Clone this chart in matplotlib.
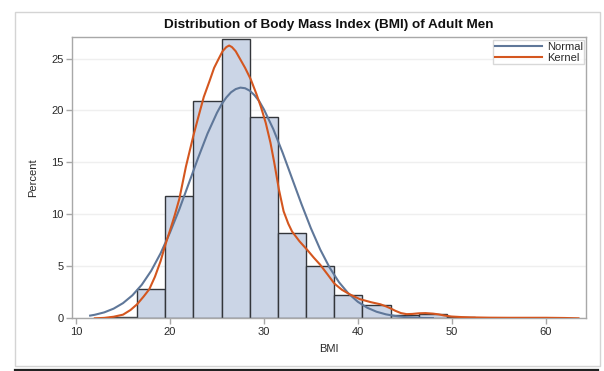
import matplotlib
matplotlib.use("Agg")
import matplotlib.pyplot as plt
from matplotlib.patches import Rectangle
from matplotlib.lines import Line2D

plt.rcParams['font.family'] = ['Liberation Sans', 'DejaVu Sans']

# Histogram bins (BMI) and percent heights
bin_left = [13.5, 16.5, 19.5, 22.5, 25.5, 28.5, 31.5, 34.5, 37.5, 40.5, 43.5, 46.5, 49.5, 58.5]
bin_width = 3.0
bin_percent = [0.17, 2.8, 11.8, 20.9, 26.9, 19.4, 8.2, 5.0, 2.25, 1.25, 0.35, 0.43, 0.15, 0.05]

# Fitted normal curve
normal_x = [11.5, 12, 13, 14, 15, 16, 17, 18, 19, 20, 21, 22, 23, 24, 25, 25.5, 26, 26.5, 27,
            27.5, 28, 28.5, 29, 29.5, 30, 31, 32, 33, 34, 35, 36, 37, 38, 39, 40, 41, 42, 43,
            44, 45, 46, 47, 48]
normal_y = [0.26, 0.34, 0.57, 0.93, 1.46, 2.21, 3.23, 4.57, 6.25, 8.25, 10.5, 12.97, 15.44,
            17.78, 19.77, 20.6, 21.25, 21.75, 22.06, 22.2, 22.14, 21.9, 21.47, 20.9, 20.11,
            18.21, 15.93, 13.46, 11.0, 8.68, 6.62, 4.88, 3.47, 2.39, 1.59, 1.02, 0.63, 0.38,
            0.22, 0.12, 0.07, 0.03, 0.02]

# Kernel density curve
kernel_x = [12.0, 13.0, 14.0, 15.0, 15.8, 16.5, 17.2, 17.8, 18.4, 19.0, 19.5, 20.0, 20.5,
            21.0, 21.7, 22.5, 23.0, 23.6, 24.2, 24.7, 25.2, 25.6, 26.0, 26.3, 26.6, 27.0,
            27.5, 28.0, 28.6, 29.2, 29.7, 30.2, 30.7, 31.1, 31.6, 32.1, 32.6, 33.0, 33.8,
            34.6, 35.3, 36.0, 36.8, 37.5, 38.3, 39.2, 40.2, 41.4, 42.4, 43.0, 43.5, 44.0,
            44.6, 45.2, 45.8, 46.5, 47.2, 48.0, 48.6, 49.2, 50.0, 51.0, 52.0, 54.0, 56.0,
            58.0, 60.0, 62.0, 63.5]
kernel_y = [0.0, 0.04, 0.15, 0.35, 0.8, 1.35, 2.1, 2.8, 4.0, 5.5, 7.05, 8.45, 9.9,
            11.5, 14.6, 17.6, 19.3, 21.3, 22.8, 24.1, 25.0, 25.7, 26.1, 26.25, 26.1, 25.7,
            24.9, 24.1, 23.0, 21.6, 20.3, 18.8, 16.9, 15.0, 12.4, 10.3, 9.1, 8.35, 7.4,
            6.6, 5.85, 5.15, 4.2, 3.35, 2.75, 2.28, 1.85, 1.55, 1.35, 1.15, 0.95, 0.72,
            0.5, 0.4, 0.42, 0.48, 0.5, 0.45, 0.38, 0.27, 0.17, 0.12, 0.09, 0.06, 0.05,
            0.05, 0.05, 0.03, 0.0]

x_ticks = [10, 20, 30, 40, 50, 60]
y_ticks = [0, 5, 10, 15, 20, 25]

fig = plt.figure(figsize=(6.04, 3.71), dpi=100)
W, H = 604.0, 371.0

# outer frame and bottom rule
fig.patches.append(Rectangle((15 / W, 1 - 366 / H), 585 / W, 354 / H, transform=fig.transFigure,
                             fill=False, edgecolor='#d4d4d4', linewidth=1.0))
fig.lines.append(Line2D([15 / W, 598 / W], [1 - 369.5 / H, 1 - 369.5 / H], transform=fig.transFigure,
                        color='#222222', linewidth=1.6))

ax = fig.add_axes([72.3 / W, 1 - 318.3 / H, (586 - 72.3) / W, (318.3 - 36.7) / H])

ax.bar(bin_left, bin_percent, width=bin_width, align='edge', color='#cbd5e6',
       edgecolor='#33363b', linewidth=1.0, zorder=2)
ax.plot(normal_x, normal_y, color='#5f7799', linewidth=1.5, label='Normal', zorder=3)
ax.plot(kernel_x, kernel_y, color='#d4561f', linewidth=1.5, label='Kernel', zorder=4)

ax.set_xlim(9.6, 64.3)
ax.set_ylim(0, 27.1)
ax.set_xticks(x_ticks)
ax.set_yticks(y_ticks)
ax.yaxis.grid(True, color='#efefef', linewidth=1.0, zorder=0)
ax.set_axisbelow(True)
for s in ax.spines.values():
    s.set_color('#a8a8a8')
    s.set_linewidth(1.0)
ax.tick_params(axis='both', colors='#a8a8a8', labelcolor='#2a2a2a', labelsize=8, length=4, width=1)
ax.tick_params(axis='x', pad=2)
ax.tick_params(axis='y', pad=2)

ax.set_xlabel('BMI', fontsize=8, color='#2a2a2a', labelpad=5)
ax.set_ylabel('Percent', fontsize=8, color='#2a2a2a', labelpad=10)
ax.set_title('Distribution of Body Mass Index (BMI) of Adult Men', fontsize=9.7,
             fontweight='bold', color='#111111', pad=6)

leg = ax.legend(loc='upper right', bbox_to_anchor=(0.997, 0.987), borderaxespad=0,
                fontsize=8, frameon=True, fancybox=False, handlelength=4.2,
                handletextpad=0.45, borderpad=0.15, labelspacing=0.05)
leg.get_frame().set_edgecolor('#cfcfcf')
leg.get_frame().set_linewidth(1.0)
for t in leg.get_texts():
    t.set_color('#2a2a2a')

fig.savefig('out.png', dpi=100)
